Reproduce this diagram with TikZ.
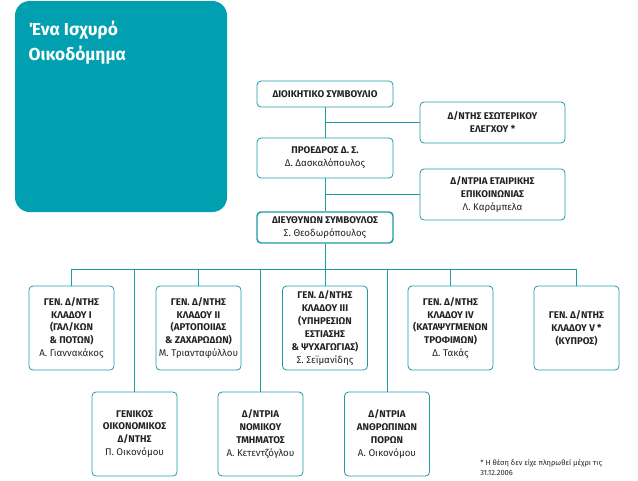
\documentclass[tikz,border=0pt]{standalone}
\usepackage{fontspec}
\setmainfont{Fira Sans}
\usepackage{tikz}
\usetikzlibrary{positioning}
\definecolor{tealfill}{RGB}{0,160,176}
\definecolor{tealline}{RGB}{30,154,166}
\definecolor{textgray}{RGB}{35,35,35}
\newcommand{\person}[1]{{\mdseries #1}}

\begin{document}
\begin{tikzpicture}[x=0.75pt, y=-0.75pt,
		box/.style={draw=tealline, line width=0.6pt, rounded corners=3pt, align=center, inner sep=1pt,
			text=textgray, font=\bfseries\fontsize{7.3}{9.7}\selectfont},
		topbox/.style={box, minimum width=102pt},
		sidebox/.style={box, minimum width=108.75pt},
		unitbox/.style={box, minimum width=63.75pt, minimum height=63pt},
		link/.style={draw=tealline, line width=0.6pt}]
	\useasboundingbox (0,0) rectangle (638,480);
	% Titel
	\fill[tealfill, rounded corners=11pt] (15,1) rectangle (227,212);
	\node[anchor=north west, align=left, text=white, font=\bfseries\fontsize{13}{19}\selectfont] (title) at (24,16) {Ένα Ισχυρό\\Οικοδόμημα};
	% Leitung
	\node[topbox, minimum height=19.5pt] (dioikitiko) at (325,94) {ΔΙΟΙΚΗΤΙΚΟ ΣΥΜΒΟΥΛΙΟ};
	\node[topbox, minimum height=30pt] (proedros) at (325,158) {ΠΡΟΕΔΡΟΣ Δ. Σ.\\\person{Δ. Δασκαλόπουλος}};
	\node[topbox, minimum height=23.25pt, line width=1.1pt] (ceo) at (325,227.5) {ΔΙΕΥΘΥΝΩΝ ΣΥΜΒΟΥΛΟΣ\\\person{Σ. Θεοδωρόπουλος}};
	\node[sidebox, minimum height=30.75pt] (eswteriko) at (492.5,122.5) {Δ/ΝΤΗΣ ΕΣΩΤΕΡΙΚΟΥ\\ΕΛΕΓΧΟΥ *};
	\node[sidebox, minimum height=38.25pt] (epikoinonia) at (492.5,194.5) {Δ/ΝΤΡΙΑ ΕΤΑΙΡΙΚΗΣ\\ΕΠΙΚΟΙΝΩΝΙΑΣ\\\person{Λ. Καράμπελα}};
	% Kladoi
	\node[unitbox] (klados1) at (71.5,328) {ΓΕΝ. Δ/ΝΤΗΣ\\ΚΛΑΔΟΥ Ι\\(ΓΑΛ/ΚΩΝ\\\& ΠΟΤΩΝ)\\\person{Α. Γιαννακάκος}};
	\node[unitbox] (klados2) at (198.5,328) {ΓΕΝ. Δ/ΝΤΗΣ\\ΚΛΑΔΟΥ ΙΙ\\(ΑΡΤΟΠΟΙΙΑΣ\\\& ΖΑΧΑΡΩΔΩΝ)\\\person{Μ. Τριανταφύλλου}};
	\node[unitbox] (klados3) at (325,328) {ΓΕΝ. Δ/ΝΤΗΣ\\ΚΛΑΔΟΥ ΙΙΙ\\(ΥΠΗΡΕΣΙΩΝ\\ΕΣΤΙΑΣΗΣ\\\& ΨΥΧΑΓΩΓΙΑΣ)\\\person{Σ. Σεϊμανίδης}};
	\node[unitbox] (klados4) at (450.5,328) {ΓΕΝ. Δ/ΝΤΗΣ\\ΚΛΑΔΟΥ ΙV\\(ΚΑΤΑΨΥΓΜΕΝΩΝ\\ΤΡΟΦΙΜΩΝ)\\\person{Δ. Τακάς}};
	\node[unitbox] (klados5) at (576.5,328) {ΓΕΝ. Δ/ΝΤΗΣ\\ΚΛΑΔΟΥ V *\\(ΚΥΠΡΟΣ)};
	% Stabsstellen
	\node[unitbox, minimum height=63pt] (oikonomikos) at (134.5,434) {ΓΕΝΙΚΟΣ\\ΟΙΚΟΝΟΜΙΚΟΣ\\Δ/ΝΤΗΣ\\\person{Π. Οικονόμου}};
	\node[unitbox, minimum height=63pt] (nomiko) at (260.5,434) {Δ/ΝΤΡΙΑ\\ΝΟΜΙΚΟΥ\\ΤΜΗΜΑΤΟΣ\\\person{Α. Κετεντζόγλου}};
	\node[unitbox, minimum height=63pt] (hr) at (387,434) {Δ/ΝΤΡΙΑ\\ΑΝΘΡΩΠΙΝΩΝ\\ΠΟΡΩΝ\\\person{Α. Οικονόμου}};
	% Fussnote
	\node[anchor=north west, align=left, inner sep=0pt, text=textgray, font=\fontsize{5.6}{7.6}\selectfont] (note) at (480,459) {* Η θέση δεν είχε πληρωθεί μέχρι τις\\31.12.2006};
	% Verbindungen
	\coordinate (bus) at (0,269);
	\draw[link] (dioikitiko) -- (proedros);
	\draw[link] (proedros) -- (ceo);
	\draw[link] (eswteriko.west) -- (eswteriko.west -| dioikitiko);
	\draw[link] (epikoinonia.west) -- (epikoinonia.west -| proedros);
	\draw[link] (ceo.south) -- (ceo |- bus);
	\draw[link] (klados1 |- bus) -- (klados5 |- bus);
	\foreach \n in {klados1,klados2,klados3,klados4,klados5,oikonomikos,nomiko,hr}
		\draw[link] (\n |- bus) -- (\n.north);
\end{tikzpicture}
\end{document}
